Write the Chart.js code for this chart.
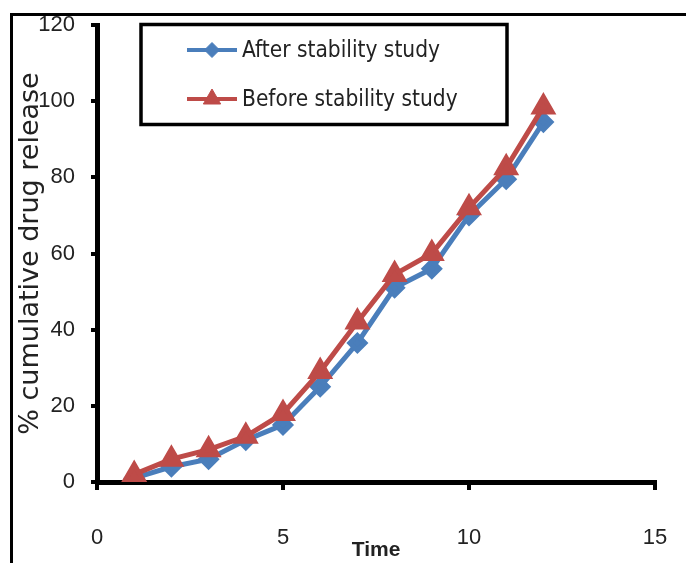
<!DOCTYPE html>
<html>
<head>
<meta charset="utf-8">
<script src="https://cdn.jsdelivr.net/npm/chart.js@4.4.1/dist/chart.umd.min.js"></script>
<style>
  body { margin: 0; background: #fff; }
  #grafico { display: block; }
</style>
</head>
<body>
<canvas id="grafico" width="686" height="563"></canvas>
<script>
const tiempo = [1, 2, 3, 4, 5, 6, 7, 8, 9, 10, 11, 12];
const despues = [1, 4, 6, 11, 15, 25, 36.5, 51, 56, 70, 79.5, 94.5];
const antes = [2, 6, 8.5, 12, 18, 29, 42, 54.5, 60, 72, 82.5, 98.5];
const etiquetas = ['After stability study', 'Before stability study'];
const xTicks = [0, 5, 10, 15];
const yTicks = [0, 20, 40, 60, 80, 100, 120];

const azul = '#4a7ebb';
const rojo = '#be4b48';

// marco exterior y leyenda con recuadro
const marcoLeyenda = {
    id: 'marcoLeyenda',
    afterDraw(chart) {
        const ctx = chart.ctx;
        ctx.save();
        ctx.strokeStyle = '#000';
        ctx.lineWidth = 3;
        ctx.beginPath();
        ctx.moveTo(11.5, 563);
        ctx.lineTo(11.5, 14.5);
        ctx.lineTo(686, 14.5);
        ctx.stroke();

        ctx.lineWidth = 3.5;
        ctx.strokeRect(141, 24.5, 366, 100);

        const filas = [50, 99];
        chart.data.datasets.forEach(function (ds, i) {
            const y = filas[i];
            ctx.strokeStyle = ds.borderColor;
            ctx.lineWidth = 4;
            ctx.beginPath();
            ctx.moveTo(187, y);
            ctx.lineTo(237, y);
            ctx.stroke();
            ctx.fillStyle = ds.pointBackgroundColor;
            ctx.strokeStyle = ds.pointBorderColor;
            ctx.lineWidth = 1;
            Chart.helpers.drawPoint(ctx, {
                pointStyle: ds.pointStyle,
                rotation: 0,
                radius: ds.pointRadius,
                borderWidth: 1
            }, 212, y);
            ctx.fillStyle = '#222';
            ctx.font = "22.5px 'DejaVu Sans Condensed', sans-serif";
            ctx.textBaseline = 'middle';
            ctx.textAlign = 'left';
            ctx.fillText(ds.label, 242, y + 1);
        });
        ctx.restore();
    }
};

const grafico = document.getElementById('grafico').getContext('2d');
const myChart = new Chart(grafico, {
    type: 'line',
    data: {
        datasets: [{
            label: etiquetas[0],
            data: tiempo.map((t, i) => ({ x: t, y: despues[i] })),
            borderColor: azul,
            backgroundColor: azul,
            pointBackgroundColor: azul,
            pointBorderColor: azul,
            pointStyle: 'rectRot',
            pointRadius: 7.5,
            borderWidth: 5,
            order: 2
        }, {
            label: etiquetas[1],
            data: tiempo.map((t, i) => ({ x: t, y: antes[i] })),
            borderColor: rojo,
            backgroundColor: rojo,
            pointBackgroundColor: rojo,
            pointBorderColor: rojo,
            pointStyle: 'triangle',
            pointRadius: 10,
            borderWidth: 5,
            order: 1
        }]
    },
    options: {
        responsive: false,
        animation: false,
        devicePixelRatio: 1,
        layout: { padding: { left: 12, top: 25, right: 31, bottom: 0 } },
        scales: {
            x: {
                type: 'linear',
                min: 0,
                max: 15,
                afterFit: s => { s.height = 81; s.paddingLeft = 0; s.paddingRight = 0; },
                afterBuildTicks: s => { s.ticks = xTicks.map(v => ({ value: v })); },
                border: { color: '#000', width: 5 },
                grid: { drawOnChartArea: false, tickLength: 8, lineWidth: 4, tickWidth: 4, tickColor: '#000' },
                ticks: {
                    padding: 35,
                    color: '#222',
                    font: { family: "'Liberation Sans', sans-serif", size: 22 }
                },
                title: {
                    display: true,
                    text: 'Time',
                    color: '#222',
                    padding: { top: 0, bottom: 0 },
                    font: { family: "'Liberation Sans', sans-serif", size: 21, weight: 'bold' }
                }
            },
            y: {
                min: 0,
                max: 120,
                afterFit: s => { s.width = 85; s.paddingTop = 0; s.paddingBottom = 0; },
                afterBuildTicks: s => { s.ticks = yTicks.map(v => ({ value: v })); },
                border: { color: '#000', width: 5 },
                grid: { drawOnChartArea: false, tickLength: 6, lineWidth: 4, tickWidth: 4, tickColor: '#000' },
                ticks: {
                    padding: 16,
                    color: '#222',
                    font: { family: "'Liberation Sans', sans-serif", size: 22 }
                },
                title: {
                    display: true,
                    text: '% cumulative drug release',
                    color: '#222',
                    padding: { top: 3, bottom: 0 },
                    font: { family: "'DejaVu Sans', sans-serif", size: 27 }
                }
            }
        },
        plugins: {
            legend: { display: false },
            tooltip: { enabled: false }
        }
    },
    plugins: [marcoLeyenda]
});
</script>
</body>
</html>
